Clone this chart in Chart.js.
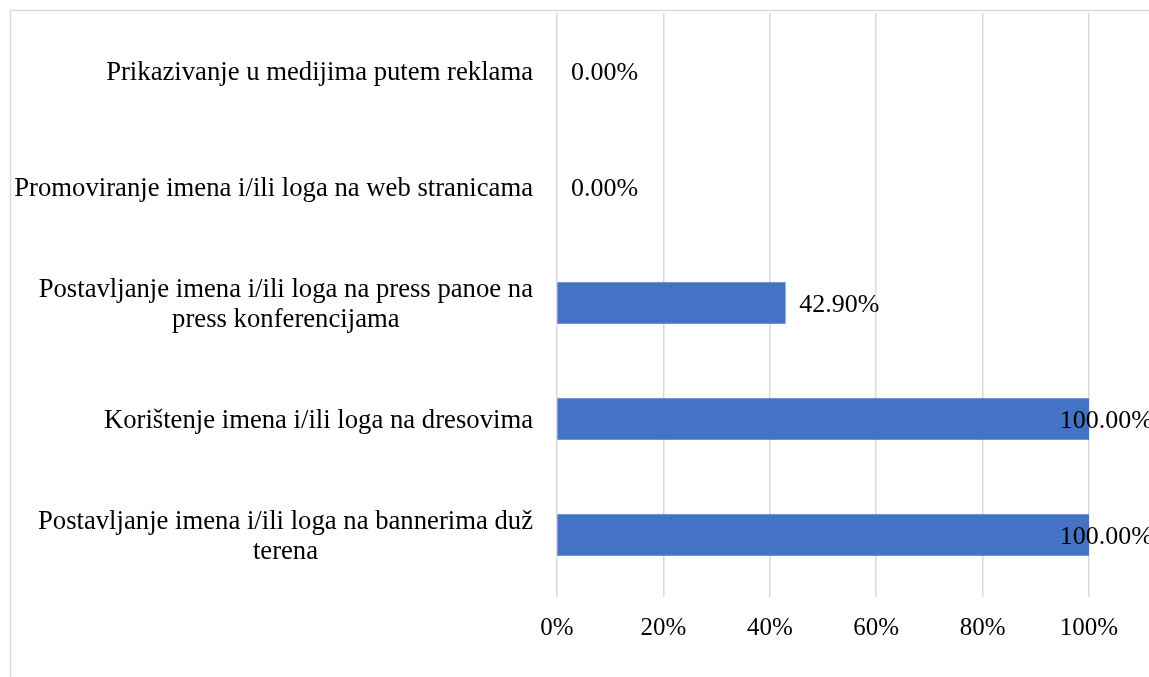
<!DOCTYPE html>
<html>
<head>
<meta charset="utf-8">
<script src="https://cdn.jsdelivr.net/npm/chart.js@4.4.1/dist/chart.umd.min.js"></script>
<style>
  html, body { margin: 0; padding: 0; background: #fff; }
  #wrap { width: 1149px; height: 677px; position: relative; }
</style>
</head>
<body>
<div id="wrap"><canvas id="chart" width="1149" height="677"></canvas></div>
<script>
// chart data
const categories = [
    ['Prikazivanje u medijima putem reklama'],
    ['Promoviranje imena i/ili loga na web stranicama'],
    ['Postavljanje imena i/ili loga na press panoe na', 'press konferencijama'],
    ['Korištenje imena i/ili loga na dresovima'],
    ['Postavljanje imena i/ili loga na bannerima duž', 'terena']
];
const values = [0, 0, 42.9, 100, 100];
const xTicks = [0, 20, 40, 60, 80, 100];

const FONT = '"Liberation Serif", "Times New Roman", serif';
const CAT_SIZE = 26.7;
const VAL_SIZE = 26;
const TICK_SIZE = 25;

// frame lines on the left and top, like the original chart box
const framePlugin = {
    id: 'frame',
    beforeDraw(chart) {
        const ctx = chart.ctx;
        ctx.save();
        ctx.strokeStyle = '#d9d9d9';
        ctx.lineWidth = 1.5;
        ctx.beginPath();
        ctx.moveTo(10.5, chart.height);
        ctx.lineTo(10.5, 10.5);
        ctx.lineTo(chart.width, 10.5);
        ctx.stroke();
        ctx.restore();
    }
};

// category labels: block right-aligned, lines centred within the block
const catLabelPlugin = {
    id: 'catLabels',
    afterDraw(chart) {
        const ctx = chart.ctx;
        const y = chart.scales.y;
        const right = chart.chartArea.left - 24;
        const lineH = 30;
        ctx.save();
        ctx.font = CAT_SIZE + 'px ' + FONT;
        ctx.fillStyle = '#000';
        ctx.textBaseline = 'middle';
        ctx.textAlign = 'center';
        categories.forEach((lines, i) => {
            const cy = y.getPixelForValue(i) + 2;
            const w = Math.max(...lines.map(l => ctx.measureText(l).width));
            const cx = right - w / 2;
            const top = cy - (lines.length - 1) * lineH / 2;
            lines.forEach((l, j) => ctx.fillText(l, cx, top + j * lineH));
        });
        ctx.restore();
    }
};

// value labels at the bar ends, pushed back in when they'd run off the chart
const valueLabelPlugin = {
    id: 'valueLabels',
    afterDatasetsDraw(chart) {
        const ctx = chart.ctx;
        const meta = chart.getDatasetMeta(0);
        ctx.save();
        ctx.font = VAL_SIZE + 'px ' + FONT;
        ctx.fillStyle = '#000';
        ctx.textBaseline = 'middle';
        ctx.textAlign = 'left';
        meta.data.forEach((bar, i) => {
            const txt = values[i].toFixed(2) + '%';
            const w = ctx.measureText(txt).width;
            const x = Math.min(bar.x + 14, chart.width - w + 4);
            ctx.fillText(txt, x, bar.y + 2);
        });
        ctx.restore();
    }
};

new Chart(document.getElementById('chart'), {
    type: 'bar',
    data: {
        labels: categories.map(c => c.join(' ')),
        datasets: [{
            data: values,
            backgroundColor: (c) => c.raw === 0 ? 'rgba(0,0,0,0)' : '#4472c4',
            barThickness: 41,
            borderWidth: 0
        }]
    },
    options: {
        indexAxis: 'y',
        responsive: false,
        animation: false,
        layout: { padding: { top: 13, right: 60, bottom: 18, left: 0 } },
        plugins: { legend: { display: false }, tooltip: { enabled: false } },
        scales: {
            x: {
                min: 0,
                max: 100,
                afterBuildTicks: (scale) => { scale.ticks = xTicks.map(v => ({ value: v })); },
                grid: { color: '#d9d9d9', lineWidth: 1.5, tickLength: 4, drawTicks: true },
                border: { display: false },
                ticks: {
                    color: '#000',
                    padding: 16,
                    font: { family: FONT, size: TICK_SIZE },
                    callback: v => v + '%'
                }
            },
            y: {
                grid: { display: false },
                border: { display: false },
                ticks: { display: false },
                afterFit: (scale) => { scale.width = 557; }
            }
        }
    },
    plugins: [framePlugin, catLabelPlugin, valueLabelPlugin]
});
</script>
</body>
</html>
